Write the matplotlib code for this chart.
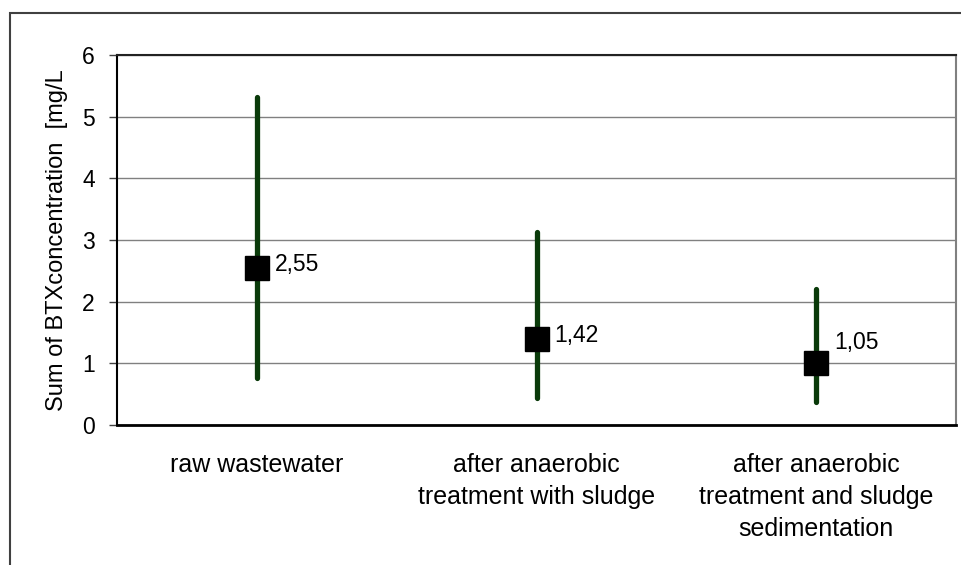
import numpy as np
import matplotlib.pyplot as plt
from matplotlib.patches import Rectangle

plt.rcParams['font.family'] = ['Liberation Sans', 'DejaVu Sans']

# values (mg/L)
categories = ["raw wastewater",
              "after anaerobic\ntreatment with sludge",
              "after anaerobic\ntreatment and sludge\nsedimentation"]
low = [0.77, 0.43, 0.38]
high = [5.32, 3.13, 2.21]
center = [2.55, 1.39, 1.00]
value_labels = ["2,55", "1,42", "1,05"]

green = '#0a3a0a'

fig = plt.figure(figsize=(9.61, 5.65), dpi=100)
ax = fig.add_axes([117 / 961, 140 / 565, 839 / 961, 370 / 565])

# chart-area frame (runs off the right and bottom edges like the original)
fig.patches.append(Rectangle((10 / 961, -0.1), 1.2, (565 - 13) / 565 + 0.1,
                             transform=fig.transFigure, fill=False,
                             edgecolor='#404040', linewidth=1.5))

x = np.arange(len(categories))
ax.vlines(x, low, high, color=green, linewidth=3.8, capstyle='round', zorder=3)
ax.plot(x, center, 's', color='black', markersize=17, zorder=4)

# label offsets in points (the last one is lifted above the grid line)
offsets = [(13, 2), (13, 3), (13, 15)]
for xi, yi, txt, off in zip(x, center, value_labels, offsets):
    ax.annotate(txt, (xi, yi), xytext=off, textcoords='offset points',
                ha='left', va='center', fontsize=16.5)

ax.set_xlim(-0.5, 2.5)
ax.set_ylim(0, 6)
ax.set_yticks(range(0, 7))
ax.set_xticks(x)
ax.set_xticklabels(categories, fontsize=18, linespacing=1.42)
ax.tick_params(axis='x', length=0, pad=20)
ax.tick_params(axis='y', length=6, width=1, pad=10, labelsize=16.5, color='#404040')
ax.set_ylabel("Sum of BTXconcentration  [mg/L", fontsize=17, labelpad=10)

ax.yaxis.grid(True, color='#808080', linewidth=1)
ax.set_axisbelow(True)
ax.spines['left'].set_linewidth(1.5)
ax.spines['bottom'].set_linewidth(2)
ax.spines['top'].set_linewidth(1.5)
ax.spines['top'].set_color('#222222')
ax.spines['right'].set_color('#808080')
ax.spines['right'].set_linewidth(1.5)

plt.savefig("out.png", dpi=100)
